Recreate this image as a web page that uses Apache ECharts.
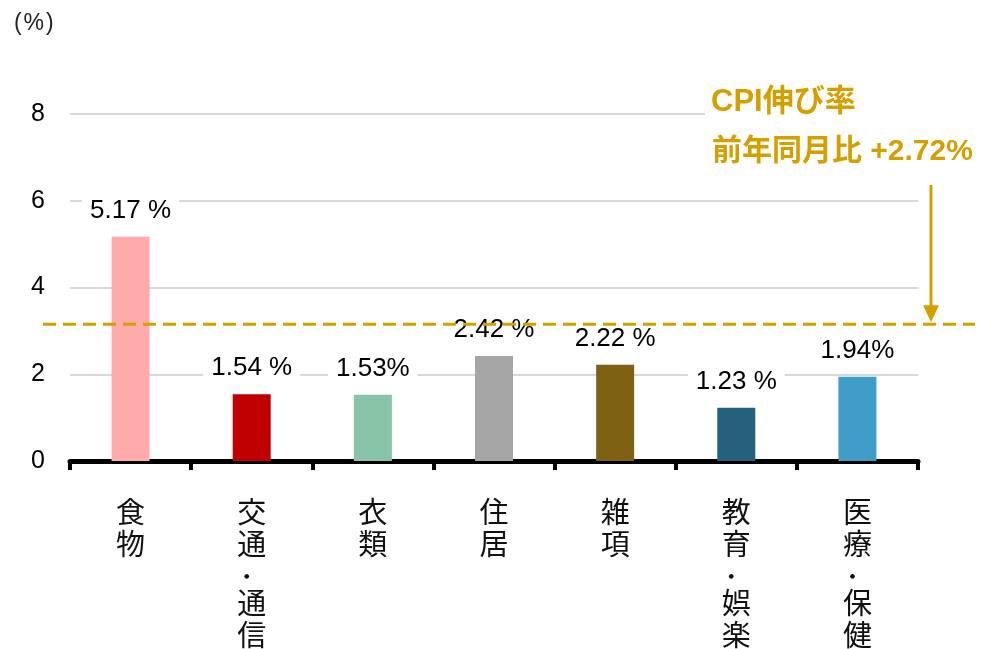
<!DOCTYPE html>
<html>
<head>
<meta charset="utf-8">
<script src="https://cdn.jsdelivr.net/npm/echarts@6/dist/echarts.min.js"></script>
<style>
html, body { margin: 0; padding: 0; background: #fff; }
#main { width: 1004px; height: 649px; }
</style>
</head>
<body>
<div id="main"></div>
<script>
// データ
var categories = ['食\n物', '交\n通\n{d|・}\n通\n信', '衣\n類', '住\n居', '雑\n項', '教\n育\n{d|・}\n娯\n楽', '医\n療\n{d|・}\n保\n健'];
var values = [5.17, 1.54, 1.53, 2.42, 2.22, 1.23, 1.94];
var valueLabels = ['5.17 %', '1.54 %', '1.53%', '2.42 %', '2.22 %', '1.23 %', '1.94%'];
var barColors = ['#FFABAB', '#C00000', '#88C4A7', '#A6A6A6', '#7F6114', '#24617C', '#3F9DC7'];
var yTicks = [0, 2, 4, 6, 8];
var cpiLevel = 3.15;   // 破線の位置
var cpiTitle = 'CPI伸び率';
var cpiText = '前年同月比 +2.72%';

var gold = '#D4A000';
var font = '"Liberation Sans", Arial, "Noto Sans CJK JP", sans-serif';
var jpFont = '"Noto Sans CJK JP", sans-serif';

var chart = echarts.init(document.getElementById('main'));

chart.setOption({
    animation: false,
    backgroundColor: '#fff',
    textStyle: { fontFamily: font },
    grid: { left: 70, right: 86, top: 114, bottom: 188, containLabel: false, outerBoundsMode: 'none' },
    xAxis: {
        type: 'category',
        data: categories,
        axisLine: { lineStyle: { color: '#000', width: 5 } },
        axisTick: { show: true, length: 9, lineStyle: { color: '#000', width: 4 } },
        axisLabel: {
            interval: 0,
            margin: 35,
            color: '#111',
            fontSize: 29,
            lineHeight: 32,
            fontFamily: jpFont,
            verticalAlign: 'top',
            rich: {
                d: { fontSize: 22, lineHeight: 27, verticalAlign: 'bottom', padding: [0, 10, 0, 0], color: '#111', fontFamily: jpFont }
            }
        }
    },
    yAxis: {
        type: 'value',
        min: yTicks[0],
        max: yTicks[yTicks.length - 1],
        interval: 2,
        axisLine: { show: false },
        axisTick: { show: false },
        axisLabel: { color: '#000', fontSize: 25, margin: 25 },
        splitLine: { lineStyle: { color: '#d9d9d9', width: 2 } }
    },
    series: [{
        type: 'bar',
        barWidth: 38,
        z: 3,
        data: values.map(function (v, i) {
            return { value: v, itemStyle: { color: barColors[i] } };
        }),
        label: {
            show: true,
            position: 'top',
            distance: 11,
            color: '#000',
            fontSize: 26,
            backgroundColor: '#fff',
            padding: [2, 8],
            formatter: function (p) { return valueLabels[p.dataIndex]; }
        }
    }]
});

// CPI 破線と注記
var yLine = chart.convertToPixel({ yAxisIndex: 0 }, cpiLevel);
var xArrow = 931;

chart.setOption({
    graphic: [
        {
            type: 'line',
            z: 10,
            shape: { x1: 43, y1: yLine, x2: 975, y2: yLine },
            style: { stroke: gold, lineWidth: 3, lineDash: [13, 7] }
        },
        {
            type: 'line',
            z: 10,
            shape: { x1: xArrow, y1: 185, x2: xArrow, y2: yLine - 12 },
            style: { stroke: gold, lineWidth: 3 }
        },
        {
            type: 'polygon',
            z: 10,
            shape: { points: [[xArrow - 8, yLine - 19], [xArrow + 8, yLine - 19], [xArrow, yLine - 2]] },
            style: { fill: gold }
        },
        {
            type: 'text',
            z: 10,
            left: 705,
            top: 85,
            style: {
                text: cpiTitle, fill: gold, font: 'bold 31px ' + font,
                backgroundColor: '#fff', padding: [2, 70, 2, 6]
            }
        },
        {
            type: 'text',
            z: 10,
            left: 712,
            top: 137,
            style: { text: cpiText, fill: gold, font: 'bold 30px ' + font }
        },
        {
            type: 'text',
            left: 14,
            top: 12,
            style: { text: '(\u200A%\u200A)', fill: '#222', font: '23px ' + font }
        }
    ]
});
</script>
</body>
</html>
